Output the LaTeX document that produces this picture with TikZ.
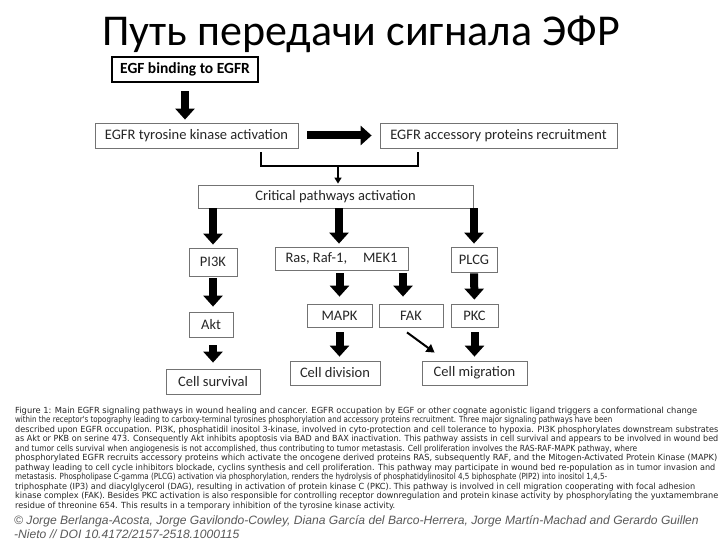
\documentclass[tikz,border=0pt]{standalone}
\usepackage{fontspec}
\setmainfont{Carlito}
\newfontfamily\capfont{DejaVu Sans}
\newfontfamily\copyfont{Liberation Sans}
\usetikzlibrary{arrows.meta}
\newcommand\capl[2]{\resizebox{#1pt}{6.4pt}{\vphantom{(Alg}#2}}
\tikzset{
  box/.style={draw=black!55, line width=0.8pt, rectangle, inner sep=0pt, text=black!85,
    font=\fontsize{14.5}{16}\selectfont},
  topbox/.style={draw=black, line width=2.2pt, rectangle, inner sep=0pt, text=black,
    font=\bfseries\fontsize{15.5}{17}\selectfont},
  bigarrow/.style={line width=8pt, draw=black, -{Triangle[length={11pt 0 0}, width={19pt 0 0}]}},
  thinarrow/.style={line width=2pt, draw=black, -{Triangle[length={8pt 0 0}, width={9pt 0 0}]}},
  bracket/.style={line width=2pt, draw=black},
  capline/.style={anchor=base west, inner sep=0pt, text=black!85, font=\capfont},
  copyline/.style={anchor=base west, inner sep=0pt, text=black!65, font=\copyfont\itshape\fontsize{12.1}{14}\selectfont}
}
\begin{document}
\begin{tikzpicture}[x=1pt,y=-1pt]
\fill[white] (0,0) rectangle (720,540);
\useasboundingbox (0,0) rectangle (720,540);

\node[anchor=base, inner sep=0pt, font=\fontsize{44}{50}\selectfont] (title) at (361,46) {Путь передачи сигнала ЭФР};

\node[topbox, minimum width=146pt, minimum height=25pt] (egf) at (185,69.5) {EGF binding to EGFR};
\node[box, minimum width=203pt, minimum height=25pt] (tyr) at (196.5,135.5) {EGFR tyrosine kinase activation};
\node[box, minimum width=237pt, minimum height=25pt] (acc) at (498.5,135.5) {EGFR accessory proteins recruitment};
\node[box, minimum width=275pt, minimum height=23pt] (crit) at (335.5,196.5) {Critical pathways activation};
\node[box, minimum width=48pt, minimum height=28pt] (pi3k) at (213,262) {PI3K};
\node[box, minimum width=133pt, minimum height=23pt] (ras) at (341.5,258.5) {Ras, Raf-1,\hspace{1.1em}MEK1};
\node[box, minimum width=46pt, minimum height=25pt] (plcg) at (474,259.5) {PLCG};
\node[box, minimum width=44pt, minimum height=25pt] (akt) at (211,324.5) {Akt};
\node[box, minimum width=94pt, minimum height=25pt] (surv) at (213,381.5) {Cell survival};
\node[box, minimum width=65pt, minimum height=23pt] (mapk) at (339.5,315.5) {MAPK};
\node[box, minimum width=64pt, minimum height=23pt] (fak) at (411,315.5) {FAK};
\node[box, minimum width=47pt, minimum height=23pt] (pkc) at (474.5,315.5) {PKC};
\node[box, minimum width=90pt, minimum height=24pt] (div) at (335,373) {Cell division};
\node[box, minimum width=105pt, minimum height=24pt] (mig) at (474.5,373) {Cell migration};

% arrows
\draw[bigarrow, shorten <=8pt, shorten >=3pt] (egf.south) -- (egf.south |- tyr.north);
\draw[bigarrow, shorten <=9pt, shorten >=8pt] (tyr.east) -- (acc.west);

\coordinate (bl) at ([xshift=-37pt]tyr.south east);
\coordinate (br) at ([xshift=38pt]acc.south west);
\draw[bracket] ([yshift=-4pt]bl) -- ([yshift=-18pt]bl) -| ([yshift=-4pt]br);
\coordinate (stem) at ([yshift=-18pt]bl -| crit.north);
\draw[bracket, -{Triangle[length={6pt 0 0}, width={7pt 0 0}]}, shorten >=1pt] ([xshift=2.5pt]stem) -- ([xshift=2.5pt]crit.north);

\draw[bigarrow, shorten >=3pt] (crit.south -| pi3k.north) -- (pi3k.north);
\draw[bigarrow, shorten >=3pt] ([xshift=3.5pt]crit.south) -- ([xshift=3.5pt]crit.south |- ras.north);
\draw[bigarrow, shorten >=3pt] (crit.south -| plcg.north) -- (plcg.north);

\draw[bigarrow, shorten <=2pt, shorten >=5pt] (pi3k) -- (akt.north -| pi3k);
\draw[bigarrow, shorten <=8pt, shorten >=6pt] (akt.south -| surv) -- (surv);

\draw[bigarrow, shorten <=3pt, shorten >=7pt] (ras.south -| mapk.north) -- (mapk.north);
\draw[bigarrow, shorten <=3pt, shorten >=7pt] ([xshift=-8pt]fak.north |- ras.south) -- ([xshift=-8pt]fak.north);
\draw[bigarrow, shorten <=1pt, shorten >=4pt] (plcg) -- (pkc);

\draw[bigarrow, shorten <=5pt, shorten >=4pt] (mapk.south) -- (mapk.south |- div.north);
\draw[bigarrow, shorten <=5pt, shorten >=4pt] (pkc) -- (mig);

\coordinate (fakend) at ([xshift=13pt,yshift=8pt]mig.north west);
\draw[thinarrow] ([xshift=-4pt,yshift=-5pt]fak.south) -- (fakend);

% caption
\node[capline] (c1) at (15,413) {\capl{682}{Figure 1: Main EGFR signaling pathways in wound healing and cancer. EGFR occupation by EGF or other cognate agonistic ligand triggers a conformational change}};
\node[capline] (c2) at (15,422.5) {\capl{597}{within the receptor's topography leading to carboxy-terminal tyrosines phosphorylation and accessory proteins recruitment. Three major signaling pathways have been}};
\node[capline] (c3) at (15,432) {\capl{703}{described upon EGFR occupation. PI3K, phosphatidil inositol 3-kinase, involved in cyto-protection and cell tolerance to hypoxia. PI3K phosphorylates downstream substrates}};
\node[capline] (c4) at (15,441.5) {\capl{703}{as Akt or PKB on serine 473. Consequently Akt inhibits apoptosis via BAD and BAX inactivation. This pathway assists in cell survival and appears to be involved in wound bed}};
\node[capline] (c5) at (15,451) {\capl{622}{and tumor cells survival when angiogenesis is not accomplished, thus contributing to tumor metastasis. Cell proliferation involves the RAS-RAF-MAPK pathway, where}};
\node[capline] (c6) at (15,460.5) {\capl{702}{phosphorylated EGFR recruits accessory proteins which activate the oncogene derived proteins RAS, subsequently RAF, and the Mitogen-Activated Protein Kinase (MAPK)}};
\node[capline] (c7) at (15,470) {\capl{700}{pathway leading to cell cycle inhibitors blockade, cyclins synthesis and cell proliferation. This pathway may participate in wound bed re-population as in tumor invasion and}};
\node[capline] (c8) at (15,479.5) {\capl{592}{metastasis. Phospholipase C-gamma (PLCG) activation via phosphorylation, renders the hydrolysis of phosphatidylinositol 4,5 biphosphate (PIP2) into inositol 1,4,5-}};
\node[capline] (c9) at (15,489) {\capl{680}{triphosphate (IP3) and diacylglycerol (DAG), resulting in activation of protein kinase C (PKC). This pathway is involved in cell migration cooperating with focal adhesion}};
\node[capline] (c10) at (15,498.5) {\capl{703}{kinase complex (FAK). Besides PKC activation is also responsible for controlling receptor downregulation and protein kinase activity by phosphorylating the yuxtamembrane}};
\node[capline] (c11) at (15,508) {\capl{380}{residue of threonine 654. This results in a temporary inhibition of the tyrosine kinase activity.}};

\node[copyline] (cp1) at (14,524) {© Jorge Berlanga-Acosta, Jorge Gavilondo-Cowley, Diana García del Barco-Herrera, Jorge Martín-Machad and Gerardo Guillen};
\node[copyline] (cp2) at (14,538) {-Nieto // DOI 10.4172/2157-2518.1000115};
\end{tikzpicture}
\end{document}
